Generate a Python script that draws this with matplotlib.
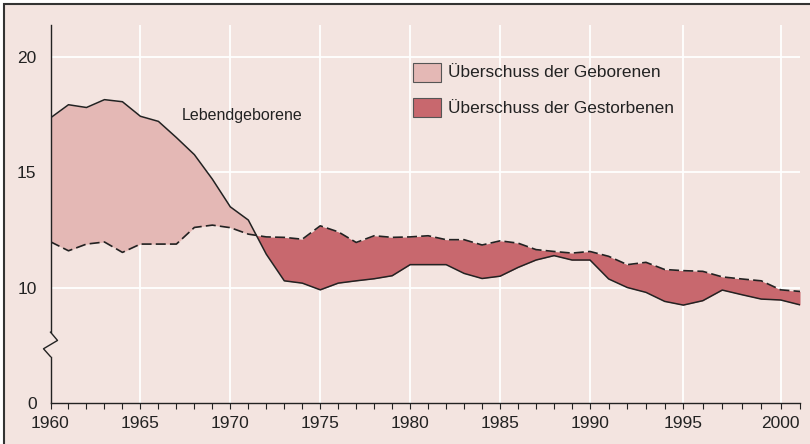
import numpy as np
import matplotlib
matplotlib.use("Agg")
import matplotlib.pyplot as plt
from matplotlib.patches import Rectangle
from matplotlib.transforms import blended_transform_factory

plt.rcParams['font.family'] = ['Liberation Sans', 'DejaVu Sans']

# Lebendgeborene / Gestorbene je 1000 Einwohner
years = list(range(1960, 2002))
geborene = [17.35, 17.92, 17.8, 18.14, 18.05, 17.42, 17.2, 16.5, 15.76, 14.7,
            13.5, 12.93, 11.45, 10.3, 10.2, 9.91, 10.2, 10.3, 10.39, 10.52,
            11.0, 11.0, 11.0, 10.62, 10.4, 10.5, 10.88, 11.2, 11.39, 11.2,
            11.2, 10.38, 10.01, 9.8, 9.41, 9.25, 9.44, 9.9, 9.7, 9.51,
            9.47, 9.26]
gestorbene = [11.99, 11.6, 11.89, 11.98, 11.53, 11.89, 11.89, 11.89, 12.61, 12.71,
              12.6, 12.32, 12.2, 12.18, 12.1, 12.68, 12.42, 11.96, 12.25, 12.18,
              12.2, 12.25, 12.08, 12.08, 11.85, 12.03, 11.93, 11.65, 11.57, 11.5,
              11.57, 11.36, 11.0, 11.1, 10.79, 10.74, 10.71, 10.47, 10.38, 10.3,
              9.91, 9.84]
legend_labels = ["Überschuss der Geborenen", "Überschuss der Gestorbenen"]
ytick_vals = [5, 10, 15, 20]          # 5 = position of the broken-axis zero
ytick_labels = ["0", "10", "15", "20"]

bg = "#f3e4e0"
c_geb = "#e4b8b5"
c_gest = "#c8686e"
ink = "#222222"

W, H = 810, 444
fig = plt.figure(figsize=(W / 100, H / 100), dpi=100, facecolor="white")
fig.patches.append(Rectangle((4 / W, -0.05), 1.1, 1 - 4 / H + 0.05,
                             transform=fig.transFigure, fc=bg, ec="#333333",
                             lw=1.5, zorder=-10))

ax = fig.add_axes([50.5 / W, 1 - 403.3 / H, (800 - 50.5) / W, (403.3 - 25) / H])
ax.set_facecolor(bg)

# the original x axis is not evenly spaced in its later years
YA = np.array([1960, 1990, 1995, 2000, 2001], float)
PA = np.array([50.5, 590, 683.3, 780.7, 800], float)


def fwd(x):
    x = np.asarray(x, float)
    y = np.interp(x, YA, PA)
    y = np.where(x < YA[0], PA[0] + (x - YA[0]) * 18.0, y)
    y = np.where(x > YA[-1], PA[-1] + (x - YA[-1]) * 19.3, y)
    return y


def inv(p):
    p = np.asarray(p, float)
    x = np.interp(p, PA, YA)
    x = np.where(p < PA[0], YA[0] + (p - PA[0]) / 18.0, x)
    x = np.where(p > PA[-1], YA[-1] + (p - PA[-1]) / 19.3, x)
    return x


ax.set_xscale("function", functions=(fwd, inv))
ax.set_xlim(1960, 2001)
ax.set_ylim(5, 21.37)

# grid
for yr in range(1965, 2001, 5):
    ax.axvline(yr, color="white", lw=1.3, zorder=1)
for v in [10, 15, 20]:
    ax.axhline(v, color="white", lw=1.3, zorder=1)

yrs = np.array(years)
geb = np.array(geborene)
gest = np.array(gestorbene)
ax.fill_between(yrs, geb, gest, where=geb >= gest, interpolate=True,
                color=c_geb, lw=0, zorder=2)
ax.fill_between(yrs, geb, gest, where=geb <= gest, interpolate=True,
                color=c_gest, lw=0, zorder=2)
ax.plot(yrs, geb, color=ink, lw=1.1, zorder=3)
ax.plot(yrs, gest, color=ink, lw=1.2, dashes=(6, 2.5), zorder=3)

ax.text(1967.3, 17.47, "Lebendgeborene", fontsize=11.5, color=ink,
        ha="left", va="center")

# spines and ticks
for s in ["top", "right", "left"]:
    ax.spines[s].set_visible(False)
ax.spines["bottom"].set_color(ink)
ax.spines["bottom"].set_linewidth(1.0)

ax.set_xticks(range(1960, 2001, 5))
ax.set_xticks(range(1960, 2002), minor=True)
ax.tick_params(axis="x", which="both", direction="out", length=4, width=0.8,
               color=ink, labelsize=12.5, labelcolor=ink, pad=5)
ax.set_yticks(ytick_vals)
ax.set_yticklabels(ytick_labels)
ax.tick_params(axis="y", length=0, labelsize=12.5, labelcolor=ink, pad=10)

# broken left axis with zigzag
tr = blended_transform_factory(ax.transAxes, ax.transData)
dx = 7 / (800 - 50.5)
ax.plot([0, 0], [21.37, 8.08], color=ink, lw=1.0, transform=tr, clip_on=False, zorder=4)
ax.plot([0, dx, -dx, 0], [8.08, 7.72, 7.36, 7.02], color=ink, lw=1.0,
        transform=tr, clip_on=False, zorder=4)
ax.plot([0, 0], [7.02, 5], color=ink, lw=1.0, transform=tr, clip_on=False, zorder=4)

# legend
def px(x, y):
    return x / W, 1 - y / H


for i, (lab, col) in enumerate(zip(legend_labels, [c_geb, c_gest])):
    top = 62.7 + i * 35.6
    fig.patches.append(Rectangle(px(413.3, top + 19), 27.7 / W, 19 / H,
                                 transform=fig.transFigure, fc=col,
                                 ec="#555555", lw=0.8))
    fig.text(*px(448.5, top + 10), lab, fontsize=12.4, color=ink,
             ha="left", va="center")

fig.savefig("out.png", dpi=100, facecolor=fig.get_facecolor())
